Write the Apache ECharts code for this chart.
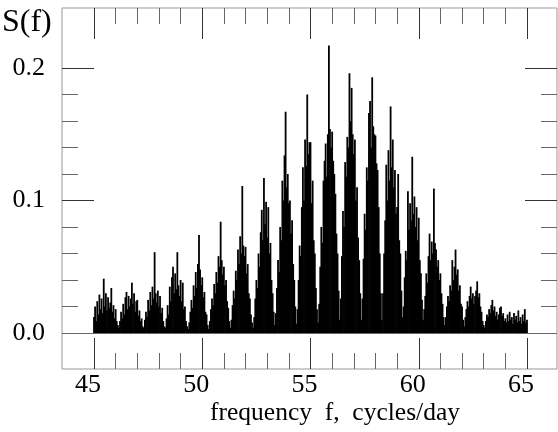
<!DOCTYPE html>
<html>
<head>
<meta charset="utf-8">
<title>S(f)</title>
<script src="https://cdn.jsdelivr.net/npm/echarts@6/dist/echarts.min.js"></script>
<style>
  html, body { margin: 0; padding: 0; background: #fff; }
  #chart { width: 558px; height: 432px; }
</style>
</head>
<body>
<div id="chart"></div>
<script>
// spectrum sampled every 0.05 cycles/day, starting at 45.00
const fStart = 45.0
const fStep = 0.05
const spectrum = [
  // 45
  0.012, 0.020, 0.009, 0.024, 0.014, 0.029, 0.018, 0.026, 0.015, 0.041, 0.020, 0.030, 0.017, 0.027, 0.019, 0.023, 0.034, 0.016, 0.021, 0.011,
  // 46
  0.018, 0.009, 0.006, 0.004, 0.009, 0.016, 0.011, 0.022, 0.014, 0.027, 0.031, 0.018, 0.028, 0.020, 0.026, 0.038, 0.022, 0.030, 0.016, 0.024,
  // 47
  0.025, 0.013, 0.017, 0.009, 0.011, 0.005, 0.004, 0.010, 0.016, 0.012, 0.025, 0.017, 0.031, 0.021, 0.035, 0.026, 0.061, 0.030, 0.023, 0.032,
  // 48
  0.020, 0.028, 0.015, 0.019, 0.009, 0.005, 0.004, 0.011, 0.021, 0.014, 0.035, 0.024, 0.042, 0.050, 0.030, 0.045, 0.033, 0.061, 0.036, 0.028,
  // 49
  0.040, 0.024, 0.038, 0.018, 0.020, 0.009, 0.005, 0.003, 0.008, 0.016, 0.025, 0.019, 0.036, 0.028, 0.046, 0.034, 0.052, 0.074, 0.048, 0.036,
  // 50
  0.042, 0.027, 0.031, 0.016, 0.014, 0.006, 0.003, 0.009, 0.018, 0.026, 0.021, 0.037, 0.030, 0.046, 0.038, 0.058, 0.050, 0.084, 0.055, 0.044,
  // 51
  0.050, 0.036, 0.040, 0.024, 0.019, 0.009, 0.004, 0.010, 0.021, 0.032, 0.026, 0.047, 0.040, 0.063, 0.052, 0.073, 0.060, 0.111, 0.066, 0.058,
  // 52
  0.065, 0.045, 0.052, 0.030, 0.026, 0.014, 0.008, 0.004, 0.012, 0.026, 0.040, 0.034, 0.060, 0.050, 0.076, 0.093, 0.070, 0.117, 0.082, 0.099,
  // 53
  0.072, 0.095, 0.060, 0.068, 0.040, 0.030, 0.016, 0.006, 0.015, 0.034, 0.055, 0.046, 0.080, 0.070, 0.115, 0.100, 0.134, 0.167, 0.110, 0.120,
  // 54
  0.098, 0.100, 0.075, 0.085, 0.052, 0.040, 0.020, 0.007, 0.018, 0.040, 0.066, 0.058, 0.095, 0.125, 0.100, 0.146, 0.126, 0.180, 0.135, 0.144,
  // 55
  0.144, 0.098, 0.115, 0.070, 0.060, 0.034, 0.018, 0.008, 0.022, 0.050, 0.080, 0.068, 0.115, 0.130, 0.143, 0.118, 0.150, 0.217, 0.154, 0.140,
  // 56
  0.152, 0.130, 0.120, 0.105, 0.075, 0.060, 0.032, 0.010, 0.026, 0.058, 0.092, 0.080, 0.129, 0.118, 0.148, 0.140, 0.196, 0.160, 0.185, 0.150,
  // 57
  0.135, 0.146, 0.100, 0.110, 0.072, 0.055, 0.030, 0.010, 0.026, 0.056, 0.090, 0.078, 0.125, 0.115, 0.166, 0.175, 0.140, 0.193, 0.156, 0.150,
  // 58
  0.149, 0.128, 0.123, 0.095, 0.060, 0.030, 0.010, 0.030, 0.060, 0.085, 0.127, 0.100, 0.138, 0.115, 0.171, 0.125, 0.146, 0.110, 0.123, 0.090,
  // 59
  0.095, 0.120, 0.070, 0.060, 0.032, 0.012, 0.020, 0.042, 0.062, 0.055, 0.107, 0.078, 0.098, 0.085, 0.133, 0.090, 0.103, 0.080, 0.095, 0.070,
  // 60
  0.087, 0.055, 0.045, 0.025, 0.010, 0.018, 0.028, 0.045, 0.038, 0.058, 0.075, 0.055, 0.069, 0.060, 0.109, 0.068, 0.063, 0.050, 0.055, 0.040,
  // 61
  0.045, 0.030, 0.022, 0.012, 0.006, 0.012, 0.020, 0.028, 0.024, 0.036, 0.032, 0.055, 0.040, 0.050, 0.063, 0.044, 0.048, 0.032, 0.036, 0.022,
  // 62
  0.020, 0.010, 0.005, 0.012, 0.018, 0.024, 0.020, 0.028, 0.035, 0.026, 0.030, 0.022, 0.028, 0.032, 0.039, 0.027, 0.030, 0.020, 0.016, 0.009,
  // 63
  0.006, 0.004, 0.009, 0.014, 0.012, 0.018, 0.015, 0.021, 0.025, 0.017, 0.020, 0.013, 0.016, 0.010, 0.014, 0.019, 0.020, 0.013, 0.015, 0.009,
  // 64
  0.011, 0.008, 0.014, 0.009, 0.016, 0.010, 0.012, 0.007, 0.015, 0.010, 0.013, 0.008, 0.017, 0.009, 0.012, 0.007, 0.014, 0.009, 0.018, 0.008,
  // 65
  0.010
]

const xTicks = { min: 45, max: 65, major: 5 }
const yTicks = { min: 0, max: 0.2, major: 0.1 }

const serif = '"Liberation Serif", "Times New Roman", serif'
const tickColor = '#333'
const minorColor = '#666'

const points = spectrum.map((v, i) => [+(fStart + i * fStep).toFixed(2), v])

const chart = echarts.init(document.getElementById('chart'))

const tickAxis = (extra) => Object.assign({
  type: 'value',
  axisLine: { show: false },
  splitLine: { show: false },
  axisTick: { show: true, inside: true, lineStyle: { color: tickColor, width: 1 } },
  minorTick: { show: true, splitNumber: 5, lineStyle: { color: minorColor, width: 1 } }
}, extra)

chart.setOption({
  animation: false,
  backgroundColor: '#fff',
  grid: [
    // frame + data
    { left: 62, right: 1, top: 8, bottom: 63, show: true, borderColor: '#999', borderWidth: 1, backgroundColor: 'transparent' },
    // y ticks (0 .. 0.2)
    { left: 62, right: 1, top: 68, bottom: 99 },
    // x ticks (45 .. 65)
    { left: 94, right: 31, top: 8, bottom: 63 }
  ],
  xAxis: [
    { gridIndex: 0, type: 'value', min: 43.522, max: 66.386, show: false },
    { gridIndex: 1, type: 'value', min: 0, max: 1, show: false },
    tickAxis({
      gridIndex: 2, position: 'bottom', min: xTicks.min, max: xTicks.max, interval: xTicks.major,
      axisTick: { show: true, inside: true, length: 31, lineStyle: { color: tickColor, width: 1 } },
      minorTick: { show: true, splitNumber: 5, length: 16, lineStyle: { color: minorColor, width: 1 } },
      axisLabel: { show: true, margin: 3, fontSize: 26, fontFamily: serif, color: '#000', padding: [0, 12, 0, 0] }
    }),
    tickAxis({
      gridIndex: 2, position: 'top', min: xTicks.min, max: xTicks.max, interval: xTicks.major,
      axisTick: { show: true, inside: true, length: 31, lineStyle: { color: tickColor, width: 1 } },
      minorTick: { show: true, splitNumber: 5, length: 16, lineStyle: { color: minorColor, width: 1 } },
      axisLabel: { show: false }
    })
  ],
  yAxis: [
    { gridIndex: 0, type: 'value', min: -0.02717, max: 0.24528, show: false },
    tickAxis({
      gridIndex: 1, position: 'left', min: yTicks.min, max: yTicks.max, interval: yTicks.major,
      axisTick: { show: true, inside: true, length: 32, lineStyle: { color: tickColor, width: 1 } },
      minorTick: { show: true, splitNumber: 5, length: 16, lineStyle: { color: minorColor, width: 1 } },
      axisLabel: { show: true, margin: 17, fontSize: 26, fontFamily: serif, color: '#000', formatter: (v) => v.toFixed(1) }
    }),
    tickAxis({
      gridIndex: 1, position: 'right', min: yTicks.min, max: yTicks.max, interval: yTicks.major,
      axisTick: { show: true, inside: true, length: 32, lineStyle: { color: tickColor, width: 1 } },
      minorTick: { show: true, splitNumber: 5, length: 16, lineStyle: { color: minorColor, width: 1 } },
      axisLabel: { show: false }
    }),
    { gridIndex: 2, type: 'value', min: 0, max: 1, show: false }
  ],
  series: [
    {
      type: 'bar',
      xAxisIndex: 0,
      yAxisIndex: 0,
      data: points,
      barWidth: 1.8,
      itemStyle: { color: '#000' },
      silent: true,
      markLine: {
        silent: true,
        symbol: 'none',
        label: { show: false },
        lineStyle: { color: '#666', width: 1, type: 'solid' },
        data: [{ yAxis: 0 }]
      }
    }
  ],
  graphic: [
    { type: 'text', x: 2, y: 23, style: { text: 'S(f)', font: '32px ' + serif, fill: '#000', align: 'left', verticalAlign: 'middle' } },
    { type: 'text', x: 335, y: 413, style: { text: 'frequency  f,  cycles/day', font: '25.5px ' + serif, fill: '#000', align: 'center', verticalAlign: 'middle' } }
  ]
})

window.addEventListener('resize', () => chart.resize())
</script>
</body>
</html>
